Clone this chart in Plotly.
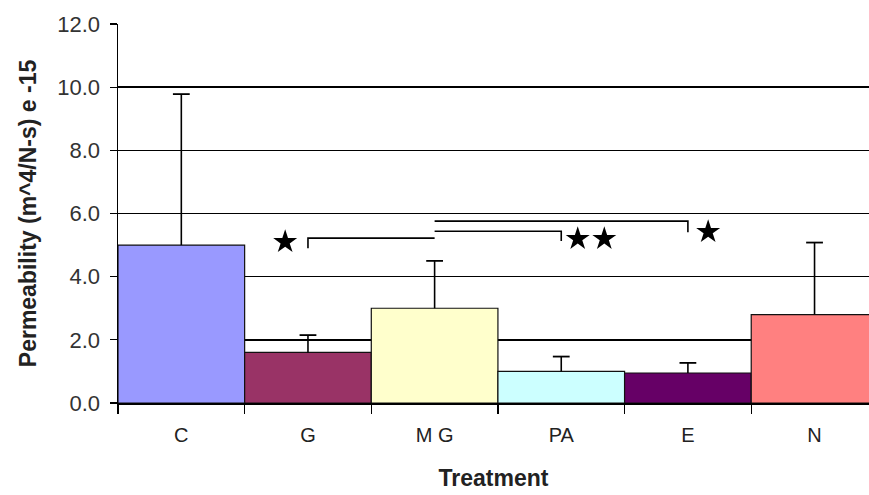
import plotly.graph_objects as go

# Data
categories = ["C", "G", "M G", "PA", "E", "N"]
values = [5.0, 1.6, 3.0, 1.0, 0.95, 2.8]
err_plus = [4.78, 0.55, 1.5, 0.47, 0.32, 2.28]
colors = ["#9999FF", "#993366", "#FFFFCC", "#CCFFFF", "#660066", "#FF8080"]
y_ticks = [0, 2, 4, 6, 8, 10, 12]
y_tick_labels = ["0.0", "2.0", "4.0", "6.0", "8.0", "10.0", "12.0"]

# significance brackets: from MG (index 2) to target index
bracket_from = [2, 2, 2]
bracket_to = [1, 3, 4]
bracket_top = [5.22, 5.44, 5.76]
bracket_drop = [4.9, 5.13, 5.41]
star_x = [0.82, 3.13, 3.34, 4.16]
star_y = [5.1, 5.2, 5.2, 5.42]

x_idx = list(range(len(categories)))

fig = go.Figure()
fig.add_trace(go.Bar(
    x=x_idx, y=values, width=1.0,
    marker=dict(color=colors, line=dict(color="#111111", width=1.2)),
    showlegend=False, hoverinfo="skip",
))

# upper-only error bars: stem + cap
stem_x, stem_y = [], []
for xi, v, e in zip(x_idx, values, err_plus):
    stem_x += [xi, xi, None]
    stem_y += [v, v + e, None]
fig.add_trace(go.Scatter(
    x=stem_x, y=stem_y, mode="lines",
    line=dict(color="black", width=1.6), showlegend=False, hoverinfo="skip",
))
fig.add_trace(go.Scatter(
    x=x_idx, y=[v + e for v, e in zip(values, err_plus)], mode="markers",
    marker=dict(symbol="line-ew-open", size=12, color="black",
                line=dict(color="black", width=1.8)),
    showlegend=False, hoverinfo="skip",
))

for f, t, top, drop in zip(bracket_from, bracket_to, bracket_top, bracket_drop):
    fig.add_trace(go.Scatter(
        x=[f, t, t], y=[top, top, drop], mode="lines",
        line=dict(color="black", width=1.6), showlegend=False, hoverinfo="skip",
    ))

fig.add_trace(go.Scatter(
    x=star_x, y=star_y, mode="markers",
    marker=dict(symbol="star", size=18, color="black"),
    showlegend=False, hoverinfo="skip",
))

font_family = "Arial, Liberation Sans, sans-serif"

fig.update_layout(
    width=869, height=495,
    margin=dict(l=118, r=0, t=24, b=92),
    paper_bgcolor="white", plot_bgcolor="white",
    font=dict(family=font_family, color="#222222"),
    bargap=0,
    xaxis=dict(
        range=[-0.5, 5.43], tickmode="array", tickvals=x_idx, ticktext=categories,
        ticks="", showgrid=False, zeroline=False, automargin=False,
        showline=True, linecolor="black", linewidth=1.5,
        tickfont=dict(size=20, color="#222222"), ticklabelstandoff=13,
        minor=dict(tickmode="linear", tick0=-0.5, dtick=1, ticks="outside",
                   ticklen=9, tickcolor="black", tickwidth=1.2, showgrid=False),
        title=dict(text="<b>Treatment</b>", font=dict(size=23, color="#222222"), standoff=25),
        fixedrange=True,
    ),
    yaxis=dict(
        range=[0, 12], tickmode="array", tickvals=y_ticks, ticktext=y_tick_labels,
        ticks="outside", ticklen=7, tickcolor="black", tickwidth=1.2,
        showgrid=True, gridcolor="black", gridwidth=1.4, automargin=False,
        zeroline=False, showline=True, linecolor="black", linewidth=1.5,
        tickfont=dict(size=22, color="#333333"), ticklabelstandoff=5,
        title=dict(text="<b>Permeability (m^4/N-s) e -15</b>",
                   font=dict(size=23, color="#222222"), standoff=14),
        fixedrange=True,
    ),
)

fig.write_html(
    "out.html",
    config={"displayModeBar": False, "staticPlot": True},
    post_script="document.body.style.margin='0px';document.body.style.overflow='hidden';",
)
